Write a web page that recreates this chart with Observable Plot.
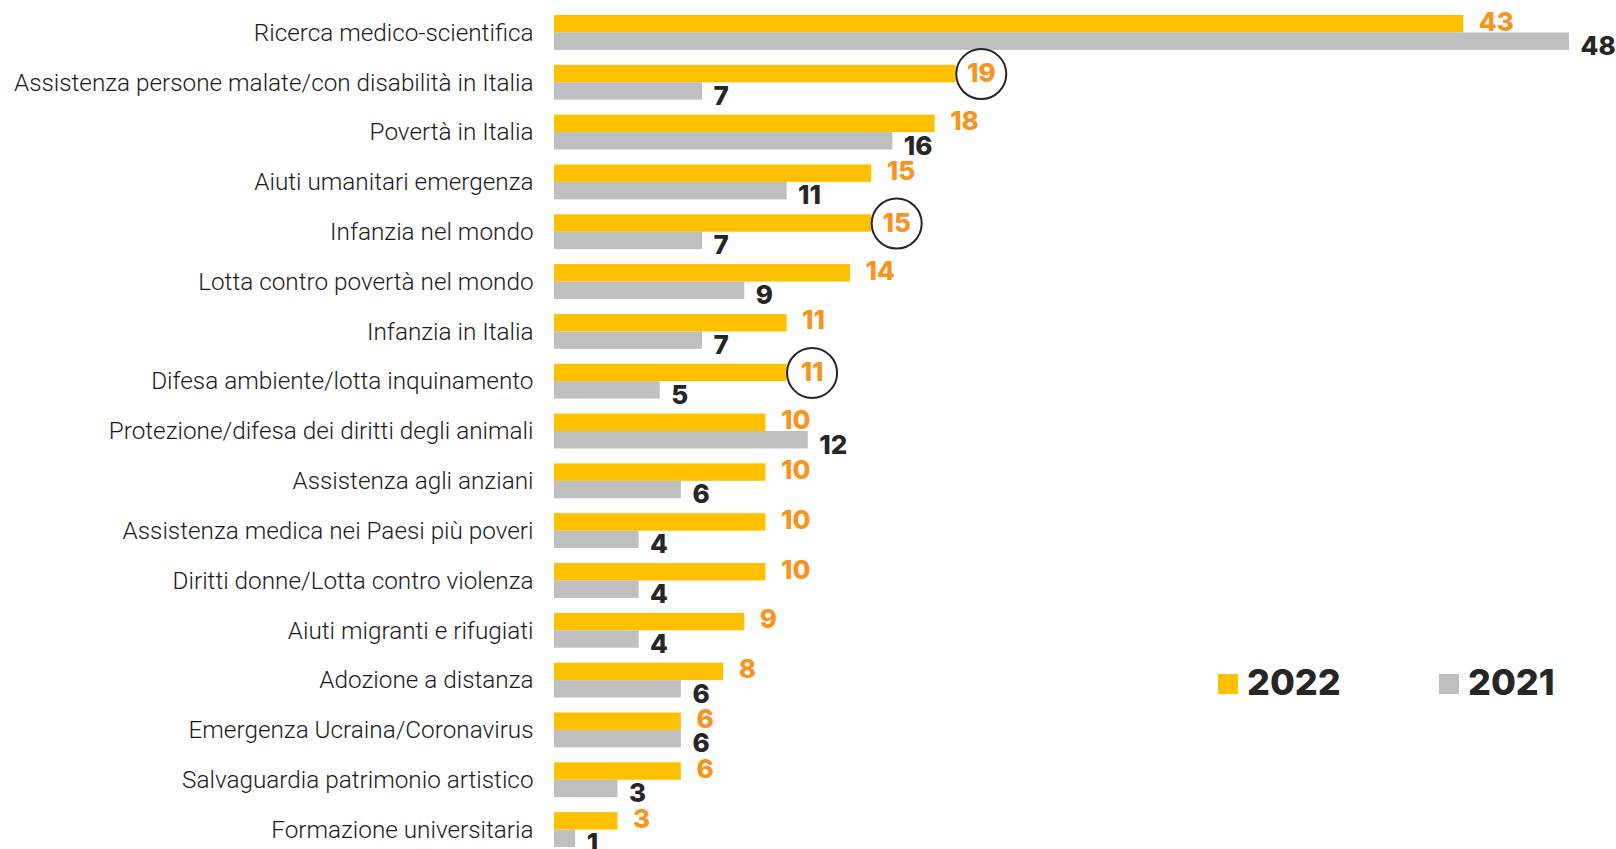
<!DOCTYPE html>
<html>
<head>
<meta charset="utf-8">
<script src="https://cdn.jsdelivr.net/npm/d3@7"></script>
<script src="https://cdn.jsdelivr.net/npm/@observablehq/plot@0.6"></script>
<style>
  html, body { margin: 0; padding: 0; background: #fff; }
  #wrap { position: relative; width: 1616px; height: 849px; overflow: hidden; }
  #chart svg { display: block; }
  .leg { position: absolute; top: 664px; display: flex; align-items: center; font-family: Inter, "DejaVu Sans", sans-serif; font-weight: 800; font-size: 36px; color: #262626; line-height: 1; }
  .leg .sw { width: 20px; height: 20px; margin-right: 9px; margin-top: 4px; }
</style>
</head>
<body>
<div id="wrap">
  <div id="chart"></div>
  <div class="leg" style="left:1218px"><span class="sw" style="background:#FFC000"></span><span>2022</span></div>
  <div class="leg" style="left:1439px"><span class="sw" style="background:#BFBFBF"></span><span>2021</span></div>
</div>
<script>
const categories = [
  "Ricerca medico-scientifica",
  "Assistenza persone malate/con disabilità in Italia",
  "Povertà in Italia",
  "Aiuti umanitari emergenza",
  "Infanzia nel mondo",
  "Lotta contro povertà nel mondo",
  "Infanzia in Italia",
  "Difesa ambiente/lotta inquinamento",
  "Protezione/difesa dei diritti degli animali",
  "Assistenza agli anziani",
  "Assistenza medica nei Paesi più poveri",
  "Diritti donne/Lotta contro violenza",
  "Aiuti migranti e rifugiati",
  "Adozione a distanza",
  "Emergenza Ucraina/Coronavirus",
  "Salvaguardia patrimonio artistico",
  "Formazione universitaria"
];
const values2022 = [43, 19, 18, 15, 15, 14, 11, 11, 10, 10, 10, 10, 9, 8, 6, 6, 3];
const values2021 = [48, 7, 16, 11, 7, 9, 7, 5, 12, 6, 4, 4, 4, 6, 6, 3, 1];
const years = ["2022", "2021"];
const highlighted = [
  "Assistenza persone malate/con disabilità in Italia",
  "Infanzia nel mondo",
  "Difesa ambiente/lotta inquinamento"
];

const data = categories.flatMap((c, i) => [
  {category: c, year: "2022", value: values2022[i]},
  {category: c, year: "2021", value: values2021[i]}
]);
const d22 = data.filter(d => d.year === "2022");
const d22plain = d22.filter(d => !highlighted.includes(d.category));
const d22hl = d22.filter(d => highlighted.includes(d.category));
const d21 = data.filter(d => d.year === "2021");

const labelFont = "Inter, 'DejaVu Sans', sans-serif";

const chart = Plot.plot({
  width: 1616,
  height: 849,
  marginLeft: 554,
  marginRight: 47,
  marginTop: 15,
  marginBottom: 2,
  style: {background: "#fff", overflow: "visible"},
  x: {domain: [0, 48], axis: null},
  y: {domain: years, axis: null, padding: 0, round: false},
  fy: {domain: categories, paddingInner: 0.3, paddingOuter: 0, round: false, label: null},
  color: {domain: years, range: ["#FFC000", "#BFBFBF"]},
  marks: [
    Plot.axisFy({anchor: "left", tickSize: 0, tickPadding: 21, label: null,
      fontSize: 24.3, fontFamily: "Roboto, sans-serif", fontWeight: 300, fill: "#1a1a1a"}),
    Plot.barX(data, {x: "value", y: "year", fy: "category", fill: "year"}),
    Plot.text(d22plain, {x: "value", y: "year", fy: "category", text: d => String(d.value),
      textAnchor: "start", dx: 15, dy: -2, fill: "#F7941D",
      fontSize: 26, fontWeight: 800, fontFamily: labelFont}),
    Plot.dot(d22hl, {x: "value", y: "year", fy: "category", dx: 25, r: 25,
      stroke: "#262626", strokeWidth: 2, fill: "none"}),
    Plot.text(d22hl, {x: "value", y: "year", fy: "category", text: d => String(d.value),
      textAnchor: "middle", dx: 25, dy: 0, fill: "#F7941D",
      fontSize: 26, fontWeight: 800, fontFamily: labelFont}),
    Plot.text(d21, {x: "value", y: "year", fy: "category", text: d => String(d.value),
      textAnchor: "start", dx: 11, dy: 5, fill: "#262626",
      fontSize: 26, fontWeight: 800, fontFamily: labelFont})
  ]
});
document.getElementById("chart").appendChild(chart);
</script>
</body>
</html>
